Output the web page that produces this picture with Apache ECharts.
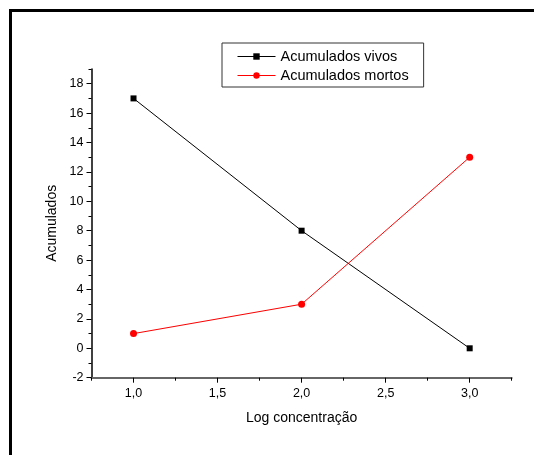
<!DOCTYPE html>
<html>
<head>
<meta charset="utf-8">
<script src="https://cdn.jsdelivr.net/npm/echarts@6/dist/echarts.min.js"></script>
<style>
  html, body { margin: 0; padding: 0; background: #fff; }
  #chart { width: 534px; height: 455px; }
</style>
</head>
<body>
<div id="chart"></div>
<script>
// Log concentration values on the x axis
const logConc = [1.0, 2.0, 3.0];
// Accumulated counts
const vivos = [17, 8, 0];
const mortos = [1, 3, 13];

// Tick positions
const xMajor = [1.0, 1.5, 2.0, 2.5, 3.0];
const xMinor = [0.75, 1.25, 1.75, 2.25, 2.75, 3.25];
const yMajor = [-2, 0, 2, 4, 6, 8, 10, 12, 14, 16, 18];
const yMinor = [-1, 1, 3, 5, 7, 9, 11, 13, 15, 17, 19];

const FONT = '"Liberation Sans", Arial, sans-serif';

const pairs = (ys) => logConc.map((x, i) => [x, ys[i]]);

const chart = echarts.init(document.getElementById('chart'), null, { renderer: 'canvas' });

const grid = { left: 91.5, right: 22.3, top: 69, bottom: 77.3, containLabel: false };

chart.setOption({
  animation: false,
  backgroundColor: '#fff',
  graphic: [
    { type: 'rect', shape: { x: 9, y: 9, width: 525, height: 3 }, style: { fill: '#000' } },
    { type: 'rect', shape: { x: 9, y: 9, width: 3, height: 446 }, style: { fill: '#000' } }
  ],
  legend: {
    orient: 'vertical',
    left: 222,
    top: 43,
    padding: [6, 15, 4, 15],
    itemGap: 4,
    itemWidth: 38,
    itemHeight: 8,
    lineStyle: { width: 1 },
    borderColor: '#333',
    borderWidth: 1,
    textStyle: { fontFamily: FONT, fontSize: 14.5, color: '#000' },
    data: ['Acumulados vivos', 'Acumulados mortos']
  },
  grid: grid,
  xAxis: [
    {
      type: 'value',
      min: 0.75,
      max: 3.25,
      position: 'bottom',
      name: 'Log concentração',
      nameLocation: 'middle',
      nameGap: 33,
      nameTextStyle: { fontFamily: FONT, fontSize: 14, color: '#000' },
      axisLine: { show: true, onZero: false, lineStyle: { color: '#666', width: 2 } },
      axisTick: { show: true, customValues: xMajor, length: 5, inside: false, lineStyle: { color: '#000', width: 1 } },
      axisLabel: {
        customValues: xMajor,
        fontFamily: FONT, fontSize: 12.5, color: '#000', margin: 9,
        formatter: (v) => v.toFixed(1).replace('.', ',')
      },
      splitLine: { show: false }
    },
    {
      type: 'value',
      min: 0.75,
      max: 3.25,
      position: 'bottom',
      axisLine: { show: false, onZero: false },
      axisTick: { show: true, customValues: xMinor, length: 3, inside: false, lineStyle: { color: '#000', width: 1 } },
      axisLabel: { show: false },
      splitLine: { show: false }
    }
  ],
  yAxis: [
    {
      type: 'value',
      min: -2,
      max: 19,
      position: 'left',
      name: 'Acumulados',
      nameLocation: 'middle',
      nameGap: 31,
      nameTextStyle: { fontFamily: FONT, fontSize: 14, color: '#000' },
      axisLine: { show: true, onZero: false, lineStyle: { color: '#000', width: 1.5 } },
      axisTick: { show: true, customValues: yMajor, length: 5, inside: false, lineStyle: { color: '#000', width: 1 } },
      axisLabel: {
        customValues: yMajor,
        fontFamily: FONT, fontSize: 12.5, color: '#000', margin: 8
      },
      splitLine: { show: false }
    },
    {
      type: 'value',
      min: -2,
      max: 19,
      position: 'left',
      axisLine: { show: false, onZero: false },
      axisTick: { show: true, customValues: yMinor, length: 3, inside: false, lineStyle: { color: '#000', width: 1 } },
      axisLabel: { show: false },
      splitLine: { show: false }
    }
  ],
  series: [
    {
      name: 'Acumulados vivos',
      type: 'line',
      xAxisIndex: 0,
      yAxisIndex: 0,
      data: pairs(vivos),
      symbol: 'rect',
      symbolSize: 6,
      color: '#000',
      lineStyle: { color: '#000', width: 1 },
      itemStyle: { color: '#000' }
    },
    {
      name: 'Acumulados mortos',
      type: 'line',
      xAxisIndex: 0,
      yAxisIndex: 0,
      data: pairs(mortos),
      symbol: 'circle',
      symbolSize: 7,
      color: '#ff0000',
      lineStyle: { color: '#ff0000', width: 1 },
      itemStyle: { color: '#ff0000' }
    }
  ]
});
</script>
</body>
</html>
